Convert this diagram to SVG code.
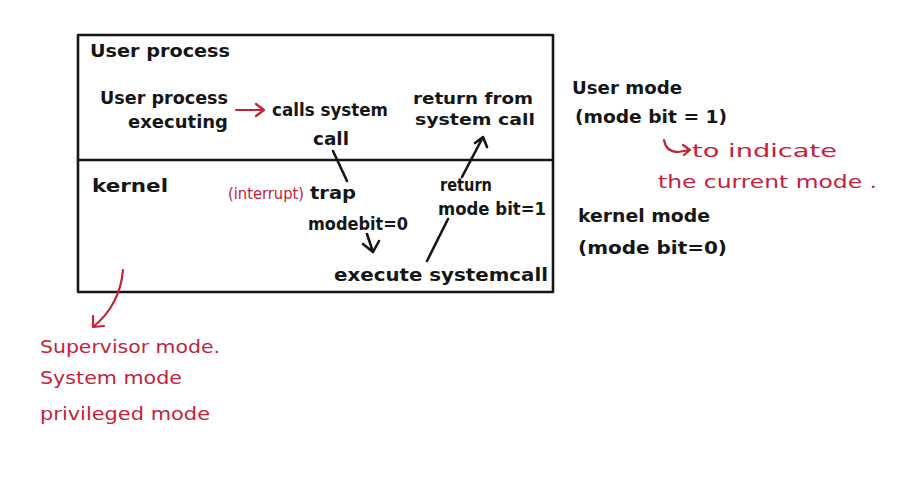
<svg xmlns="http://www.w3.org/2000/svg" width="900" height="499" viewBox="0 0 900 499">
<style>
  .t { font-family: "DejaVu Sans", "Liberation Sans", sans-serif; font-size: 18px; font-weight: bold; fill: #161616; }
  .s { font-size: 16px; }
  .r { font-family: "DejaVu Sans", "Liberation Sans", sans-serif; font-size: 18px; fill: #c4213a; }
  .sm { font-size: 15px; }
  .ln { stroke: #161616; stroke-width: 2.6; fill: none; stroke-linecap: round; stroke-linejoin: round; }
  .rl { stroke: #c4213a; stroke-width: 2.2; fill: none; stroke-linecap: round; stroke-linejoin: round; }
</style>
<rect width="900" height="499" fill="#ffffff"/>

<g id="frame">
  <rect x="78" y="35" width="475" height="257" class="ln" stroke-width="3"/>
  <line x1="78" y1="160" x2="553" y2="160" class="ln" stroke-width="3"/>
</g>

<g id="user-process-region">
  <text class="t" x="90" y="57" textLength="140" lengthAdjust="spacingAndGlyphs">User process</text>
</g>
<g id="user-executing">
  <text class="t" x="100" y="104" textLength="128" lengthAdjust="spacingAndGlyphs">User process</text>
  <text class="t" x="128" y="128" textLength="100" lengthAdjust="spacingAndGlyphs">executing</text>
</g>
<g id="calls-system-call">
  <text class="t" x="272" y="116" textLength="116" lengthAdjust="spacingAndGlyphs">calls system</text>
  <text class="t" x="313" y="145" textLength="36" lengthAdjust="spacingAndGlyphs">call</text>
</g>
<g id="return-from-system-call">
  <text class="t s" x="413" y="104" textLength="120" lengthAdjust="spacingAndGlyphs">return from</text>
  <text class="t s" x="415" y="125" textLength="120" lengthAdjust="spacingAndGlyphs">system call</text>
</g>
<g id="kernel-region">
  <text class="t" x="92" y="192" textLength="76" lengthAdjust="spacingAndGlyphs">kernel</text>
</g>
<g id="trap">
  <text class="r sm" x="228" y="199" textLength="76" lengthAdjust="spacingAndGlyphs">(interrupt)</text>
  <text class="t" x="310" y="199" textLength="46" lengthAdjust="spacingAndGlyphs">trap</text>
  <text class="t" x="308" y="230" textLength="100" lengthAdjust="spacingAndGlyphs">modebit=0</text>
</g>
<g id="return-mode">
  <text class="t" x="440" y="191" textLength="52" lengthAdjust="spacingAndGlyphs">return</text>
  <text class="t" x="438" y="215" textLength="108" lengthAdjust="spacingAndGlyphs">mode bit=1</text>
</g>
<g id="execute-system-call">
  <text class="t" x="334" y="281" textLength="214" lengthAdjust="spacingAndGlyphs">execute systemcall</text>
</g>

<g id="user-mode-note">
  <text class="t" x="572" y="94" textLength="110" lengthAdjust="spacingAndGlyphs">User mode</text>
  <text class="t" x="575" y="123" textLength="152" lengthAdjust="spacingAndGlyphs">(mode bit = 1)</text>
</g>
<g id="indicate-note">
  <text class="r" x="692" y="157" textLength="145" lengthAdjust="spacingAndGlyphs">to indicate</text>
  <text class="r" x="658" y="188" textLength="219" lengthAdjust="spacingAndGlyphs">the current mode .</text>
</g>
<g id="kernel-mode-note">
  <text class="t" x="578" y="222" textLength="132" lengthAdjust="spacingAndGlyphs">kernel mode</text>
  <text class="t" x="578" y="254" textLength="149" lengthAdjust="spacingAndGlyphs">(mode bit=0)</text>
</g>
<g id="kernel-aliases">
  <text class="r" x="40" y="353" textLength="180" lengthAdjust="spacingAndGlyphs">Supervisor mode.</text>
  <text class="r" x="40" y="384" textLength="142" lengthAdjust="spacingAndGlyphs">System mode</text>
  <text class="r" x="40" y="420" textLength="170" lengthAdjust="spacingAndGlyphs">privileged mode</text>
</g>

<g id="connectors">
  <path class="rl" d="M236 110 L264 110 M256 104 L264 110 L256 116"/>
  <path class="ln" d="M333 151 L347 181"/>
  <path class="ln" d="M367 234 L373 252 M363 244 L373 252 L379 241"/>
  <path class="ln" d="M427 261 L448 219"/>
  <path class="ln" d="M462 177 L483 137 M475 143 L483 137 L487 147"/>
  <path class="rl" d="M664 140 Q666 152 678 152 L690 150 M683 145 L690 150 L684 155"/>
  <path class="rl" d="M123 270 Q120 305 93 327 M93 316 L93 327 L104 326"/>
</g>
</svg>
